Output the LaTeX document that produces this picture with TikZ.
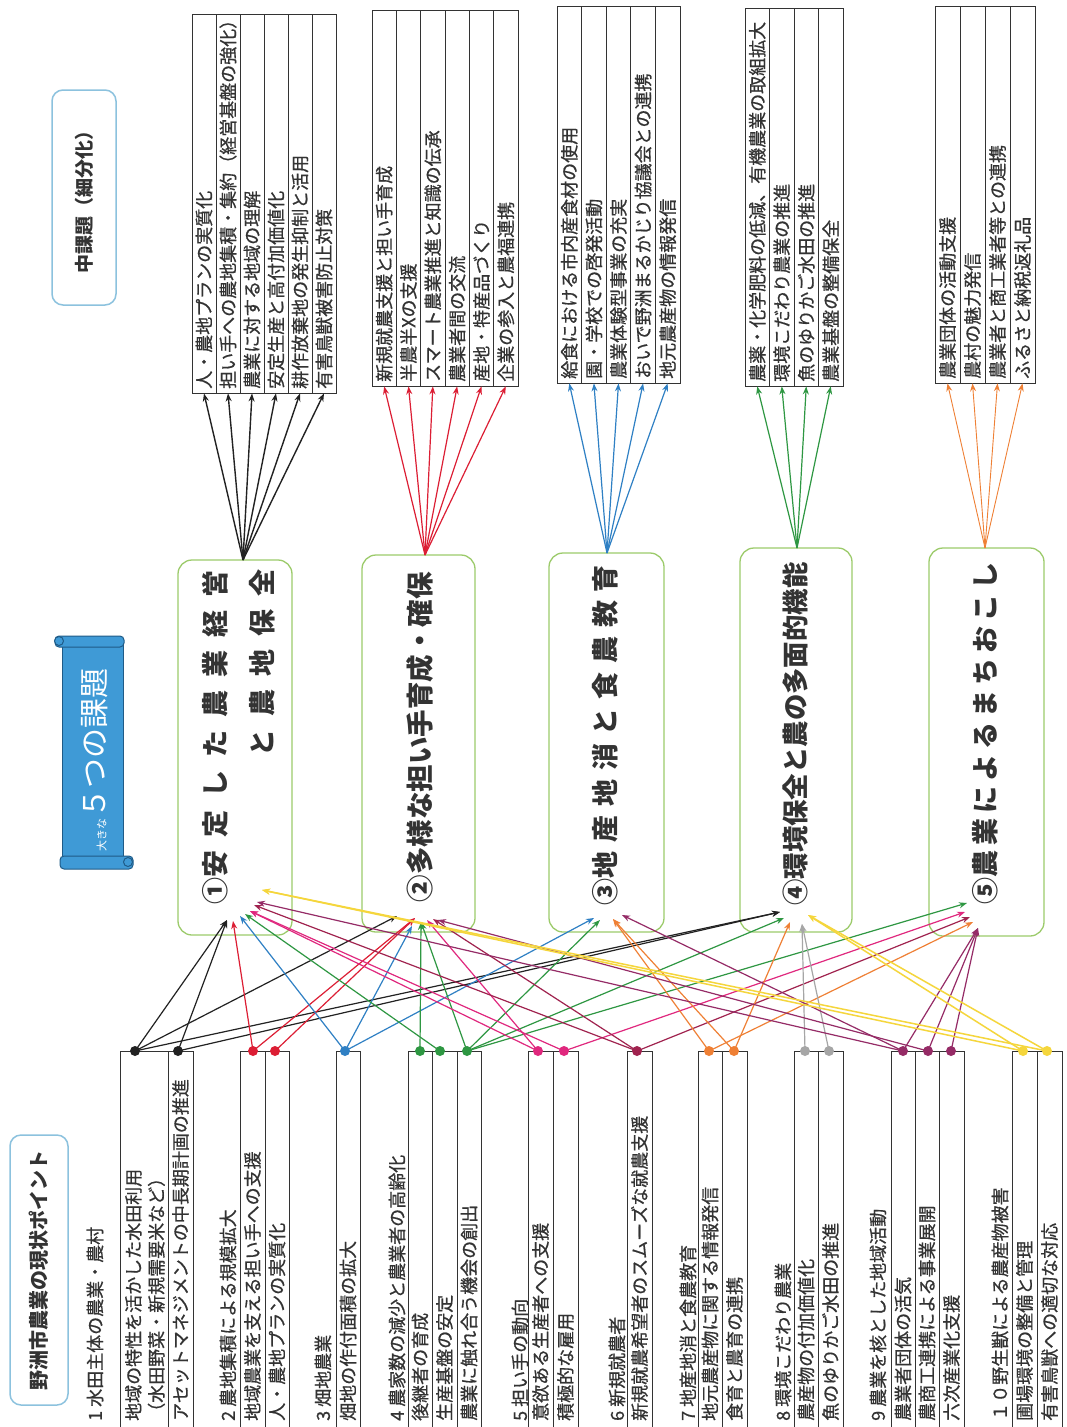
\documentclass[tikz,border=0pt]{standalone}
\usepackage{fontspec}
\setmainfont{Noto Sans CJK JP}
\newfontfamily\jpm{Noto Sans CJK JP}[FakeBold=0.7]
\usetikzlibrary{arrows.meta}
\definecolor{txt}{HTML}{333333}
\definecolor{cK}{HTML}{222222}
\definecolor{cR}{HTML}{DC1E34}
\definecolor{cB}{HTML}{2F80C4}
\definecolor{cG}{HTML}{2E9742}
\definecolor{cM}{HTML}{E0287E}
\definecolor{cMr}{HTML}{A0234F}
\definecolor{cO}{HTML}{EF8035}
\definecolor{cGr}{HTML}{A6A6A6}
\definecolor{cP}{HTML}{952B66}
\definecolor{cY}{HTML}{F5D63C}
\definecolor{midg}{HTML}{9CCB6B}
\definecolor{lblue}{HTML}{8CC2DE}
\definecolor{scrollc}{HTML}{3F9AD6}
\definecolor{scrollD}{HTML}{1F5B87}
\newcommand\fs[1]{\fontsize{#1}{#1}\selectfont}
\begin{document}
\begin{tikzpicture}[x=1pt,y=-1pt,
  colbox/.style={draw=txt, line width=0.8pt, rectangle, inner sep=0pt},
  item/.style={rotate=90, anchor=west, inner sep=0pt, text=txt, font=\jpm\fs{18}},
  head/.style={rotate=90, anchor=west, inner sep=0pt, text=txt, font=\jpm\fs{18}},
  midbox/.style={draw=midg, line width=1.3pt, rounded corners=14pt, rectangle, inner sep=0pt},
  bigtxt/.style={rotate=90, anchor=center, inner sep=0pt, text=txt, font=\fs{27}\bfseries},
  lblbox/.style={draw=lblue, line width=1.5pt, rounded corners=11pt, rectangle, inner sep=0pt, fill=white},
  dot/.style={circle, inner sep=0pt, minimum size=10pt},
  conn/.style={line width=1.2pt, -{Stealth[length=8pt,width=6pt]}},
]
\useasboundingbox (0,0) rectangle (1066,1427);
\fill[white] (0,0) rectangle (1066,1427);

% ---------- left labels ----------
\node[lblbox, minimum width=64pt, minimum height=215pt] (lab1) at (84,197.5) {};
\node[rotate=90, text=txt, font=\fs{19}\bfseries] (lab1t) at (84,197.5) {中課題（細分化）};
\node[lblbox, minimum width=58pt, minimum height=270pt] (lab2) at (39,1270) {};
\node[rotate=90, text=txt, font=\fs{20}\bfseries] (lab2t) at (39,1270) {野洲市農業の現状ポイント};

% scroll
\filldraw[fill=scrollc, draw=scrollD, line width=1pt] (62,642) rectangle (123,862);
\filldraw[fill=scrollc, draw=scrollD, line width=1pt, rounded corners=4pt] (55,636) rectangle (124,647);
\filldraw[fill=scrollc, draw=scrollD, line width=1pt] (59,641) circle (4.5);
\filldraw[fill=scrollc, draw=scrollD, line width=1pt, rounded corners=4pt] (60,856) rectangle (133,869);
\filldraw[fill=scrollc, draw=scrollD, line width=1pt] (128,862) circle (4.5);
\node[rotate=90, anchor=west, inner sep=0pt, text=white] (scrt) at (95,852) {{\fs{11}大きな}{\fs{30}５つの課題}};

% ---------- top groups ----------
\foreach \t [count=\i] in {人・農地プランの実質化,担い手への農地集積・集約（経営基盤の強化）,農業に対する地域の理解,安定生産と高付加価値化,耕作放棄地の発生抑制と活用,有害鳥獣被害防止対策}{
  \pgfmathsetmacro\cx{192+24*(\i-0.5)}
  \node[colbox, minimum width=24pt, minimum height=379pt] (ga\i) at (\cx,203.5) {};
  \node[item] (gat\i) at (\cx,389) {\t};
}
\foreach \t [count=\i] in {新規就農支援と担い手育成,半農半Xの支援,スマート農業推進と知識の伝承,農業者間の交流,産地・特産品づくり,企業の参入と農福連携}{
  \pgfmathsetmacro\cx{372+24.33*(\i-0.5)}
  \node[colbox, minimum width=24.33pt, minimum height=376pt] (gb\i) at (\cx,198) {};
  \node[item] (gbt\i) at (\cx,382) {\t};
}
\foreach \t [count=\i] in {給食における市内産食材の使用,園・学校での啓発活動,農業体験型事業の充実,おいで野洲まるかじり協議会との連携,地元農産物の情報発信}{
  \pgfmathsetmacro\cx{557+24.6*(\i-0.5)}
  \node[colbox, minimum width=24.6pt, minimum height=377pt] (gc\i) at (\cx,194.5) {};
  \node[item] (gct\i) at (\cx,379) {\t};
}
\foreach \t [count=\i] in {農薬・化学肥料の低減、有機農業の取組拡大,環境こだわり農業の推進,魚のゆりかご水田の推進,農業基盤の整備保全}{
  \pgfmathsetmacro\cx{745+24.5*(\i-0.5)}
  \node[colbox, minimum width=24.5pt, minimum height=378pt] (gd\i) at (\cx,197) {};
  \node[item] (gdt\i) at (\cx,382) {\t};
}
\foreach \t [count=\i] in {農業団体の活動支援,農村の魅力発信,農業者と商工業者等との連携,ふるさと納税返礼品}{
  \pgfmathsetmacro\cx{935+25*(\i-0.5)}
  \node[colbox, minimum width=25pt, minimum height=377pt] (ge\i) at (\cx,194.5) {};
  \node[item] (get\i) at (\cx,379) {\t};
}

% ---------- middle boxes ----------
\node[midbox, minimum width=114pt, minimum height=375pt] (m1) at (235,747.5) {};
\node[midbox, minimum width=113pt, minimum height=377pt] (m2) at (418.5,743.5) {};
\node[midbox, minimum width=115pt, minimum height=379pt] (m3) at (606.5,742.5) {};
\node[midbox, minimum width=112pt, minimum height=384pt] (m4) at (796,740) {};
\node[midbox, minimum width=115pt, minimum height=388pt] (m5) at (986.5,742) {};

\node[bigtxt] (m1a) at (215,737) {\makebox[334pt][l]{①安\hfill 定\hfill し\hfill た\hfill 農\hfill 業\hfill 経\hfill 営}};
\node[bigtxt] (m1b) at (262,663) {\makebox[187pt][l]{と\hfill 農\hfill 地\hfill 保\hfill 全}};
\node[bigtxt, font=\fs{27.5}\bfseries] (m2a) at (420,737) {②多様な担い手育成・確保};
\node[bigtxt] (m3a) at (605,735) {\makebox[340pt][l]{③地\hfill 産\hfill 地\hfill 消\hfill と\hfill 食\hfill 農\hfill 教\hfill 育}};
\node[bigtxt, font=\fs{26.4}\bfseries] (m4a) at (795,734) {④環境保全と農の多面的機能};
\node[bigtxt] (m5a) at (985,733) {\makebox[342pt][l]{⑤農\hfill 業\hfill に\hfill よ\hfill る\hfill ま\hfill ち\hfill お\hfill こ\hfill し}};

% ---------- fans to top groups ----------
\coordinate (fa) at (243,560);
\coordinate (fb) at (425,555);
\coordinate (fc) at (607,553);
\coordinate (fd) at (797,548);
\coordinate (fe) at (985,548);
\foreach \i in {1,...,6} \draw[conn, cK, line width=1.4pt] (fa) -- (ga\i.south);
\foreach \i in {1,...,6} \draw[conn, cR] (fb) -- (gb\i.south);
\foreach \i in {1,...,5} \draw[conn, cB] (fc) -- (gc\i.south);
\foreach \i in {1,...,4} \draw[conn, cG] (fd) -- (gd\i.south);
\foreach \i in {1,...,4} \draw[conn, cO, line width=0.9pt] (fe) -- (ge\i.south);

% ---------- bottom boxes ----------
\foreach \a/\b in {120/168,168/193,240/265,265/289,336/360,408/432,432/457,457/481,528/553,553/578,627/652,698/722,722/747,794/818,818/843,891/915,915/939,939/964,1012/1037,1037/1062}
  \draw[colbox] (\a,1051) rectangle (\b,1440);

\node[head] (h1) at (95,1421) {1 水田主体の農業・農村};
\node[head] (h2) at (228,1421) {2 農地集積による規模拡大};
\node[head] (h3) at (323,1421) {3 畑地農業};
\node[head] (h4) at (397,1421) {4 農家数の減少と農業者の高齢化};
\node[head] (h5) at (520,1421) {5 担い手の動向};
\node[head] (h6) at (617,1421) {6 新規就農者};
\node[head] (h7) at (688,1421) {7 地産地消と食農教育};
\node[head] (h8) at (783,1421) {8 環境こだわり農業};
\node[head] (h9) at (878,1421) {9 農業を核とした地域活動};
\node[head] (h10) at (1000,1421) {１０野生獣による農産物被害};

\node[item, align=left, font=\jpm\fontsize{18}{23}\selectfont] (b1) at (145,1421) {地域の特性を活かした水田利用\\（水田野菜・新規需要米など）};
\foreach \x/\t [count=\i] in {180.5/アセットマネジメントの中長期計画の推進,252.5/地域農業を支える担い手への支援,277/人・農地プランの実質化,348/畑地の作付面積の拡大,420/後継者の育成,444.5/生産基盤の安定,469/農業に触れ合う機会の創出,540.5/意欲ある生産者への支援,565.5/積極的な雇用,639.5/新規就農希望者のスムーズな就農支援,710/地元農産物に関する情報発信,734.5/食育と農育の連携,806/農産物の付加価値化,830.5/魚のゆりかご水田の推進,903/農業者団体の活気,927/農商工連携による事業展開,951.5/六次産業化支援,1024.5/圃場環境の整備と管理,1049.5/有害鳥獣への適切な対応}
  \node[item] (bt\i) at (\x,1421) {\t};

% ---------- targets ----------
\coordinate (aK) at (227,920); \coordinate (aR) at (233,921); \coordinate (aB) at (240,916);
\coordinate (aG) at (245,914); \coordinate (aM) at (250,911); \coordinate (aMr) at (254,905);
\coordinate (aP) at (257,902); \coordinate (aY) at (262,890);
\coordinate (bK) at (397,916); \coordinate (bR) at (415,918); \coordinate (bB) at (412,926);
\coordinate (bG) at (421,922); \coordinate (bM) at (427,920); \coordinate (bMr) at (433,919);
\coordinate (bP) at (438,920);
\coordinate (cB) at (594,918); \coordinate (cG) at (600,920); \coordinate (cO) at (613,919);
\coordinate (cP) at (622,915);
\coordinate (dK) at (780,912); \coordinate (dG) at (784,918); \coordinate (dO) at (790,922);
\coordinate (dGr) at (802,924); \coordinate (dY) at (808,915);
\coordinate (eG) at (967,903); \coordinate (eM) at (965,912); \coordinate (eMr) at (970,917);
\coordinate (eO) at (973,922); \coordinate (eP) at (978,928);

% ---------- dots ----------
\node[dot, fill=cK] (d1a) at (135,1051) {};
\node[dot, fill=cK] (d1b) at (178,1051) {};
\node[dot, fill=cR] (d2a) at (253,1051) {};
\node[dot, fill=cR] (d2b) at (275,1051) {};
\node[dot, fill=cB] (d3) at (345,1051) {};
\node[dot, fill=cG] (d4a) at (420,1051) {};
\node[dot, fill=cG] (d4b) at (440,1051) {};
\node[dot, fill=cG] (d4c) at (467,1051) {};
\node[dot, fill=cM] (d5a) at (538,1051) {};
\node[dot, fill=cM] (d5b) at (564,1051) {};
\node[dot, fill=cMr] (d6) at (637,1051) {};
\node[dot, fill=cO] (d7a) at (709,1051) {};
\node[dot, fill=cO] (d7b) at (734,1051) {};
\node[dot, fill=cGr] (d8a) at (805,1051) {};
\node[dot, fill=cGr] (d8b) at (829,1051) {};
\node[dot, fill=cP] (d9a) at (903,1051) {};
\node[dot, fill=cP] (d9b) at (928,1051) {};
\node[dot, fill=cP] (d9c) at (951,1051) {};
\node[dot, fill=cY] (d10a) at (1023,1051) {};
\node[dot, fill=cY] (d10b) at (1047,1051) {};

% ---------- connectors ----------
\foreach \s/\t in {d1a/aK,d1a/bK,d1a/dK,d1b/aK,d1b/dK} \draw[conn, cK] (\s.center) -- (\t);
\foreach \s/\t in {d2a/aR,d2a/bR,d2b/bR} \draw[conn, cR] (\s.center) -- (\t);
\foreach \s/\t in {d3/aB,d3/bB,d3/cB} \draw[conn, cB] (\s.center) -- (\t);
\foreach \s/\t in {d4a/bG,d4b/aG,d4c/bG,d4c/cG,d4c/dG,d4c/eG} \draw[conn, cG] (\s.center) -- (\t);
\foreach \s/\t in {d5a/aM,d5a/bM,d5b/aM,d5b/eM} \draw[conn, cM] (\s.center) -- (\t);
\foreach \s/\t in {d6/aMr,d6/bMr,d6/eMr} \draw[conn, cMr] (\s.center) -- (\t);
\foreach \s/\t in {d7a/cO,d7a/eO,d7b/cO,d7b/dO} \draw[conn, cO] (\s.center) -- (\t);
\foreach \s/\t in {d8a/dGr,d8b/dGr} \draw[conn, cGr] (\s.center) -- (\t);
\foreach \s/\t in {d9a/aP,d9a/cP,d9a/eP,d9b/bP,d9b/eP,d9c/eP} \draw[conn, cP] (\s.center) -- (\t);
\foreach \s/\t in {d10a/aY,d10a/dY,d10b/aY,d10b/dY} \draw[conn, cY, line width=1.5pt] (\s.center) -- (\t);
\end{tikzpicture}
\end{document}
